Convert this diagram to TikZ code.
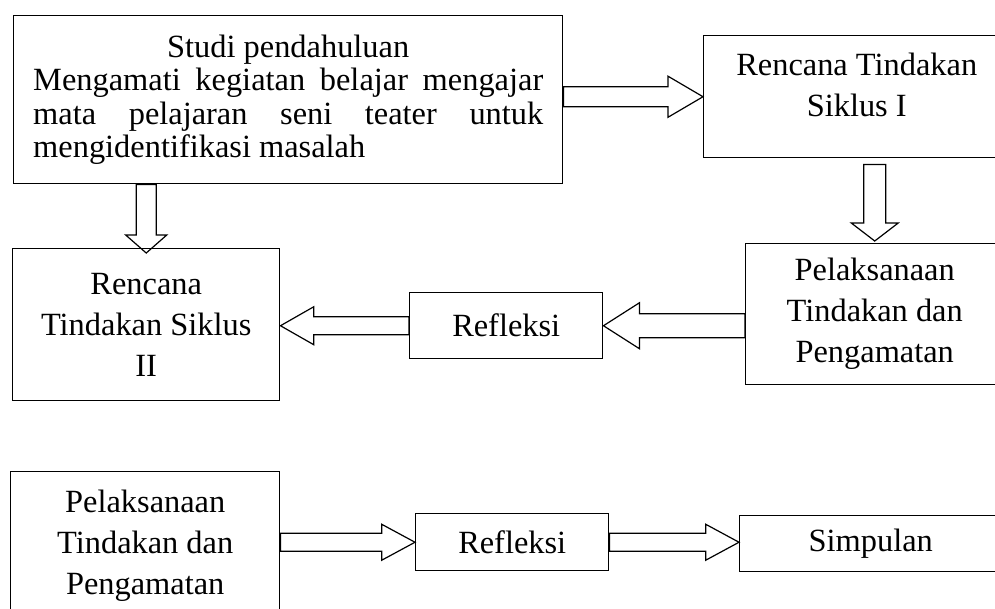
\documentclass[tikz,border=0pt]{standalone}
\usepackage{fontspec}
\setmainfont{Liberation Serif}
\usetikzlibrary{calc}

\tikzset{
  teks/.style={inner sep=0pt, align=center, font=\fontsize{24.3}{30.75}\selectfont},
  kotak/.style={teks, draw, line width=1.1pt, anchor=north west},
  panahblok/.style={draw, line width=0.9pt, line join=miter},
}

% baris rata kiri-kanan di kotak studi
\newcommand{\baris}[2][s]{\makebox[382.5pt][#1]{#2}}

% panah blok: dari, ke, setengah lebar batang, setengah lebar kepala, panjang kepala
\newcommand{\panah}[5]{%
  \coordinate (hb) at ($(#2)!#5!(#1)$);
  \draw[panahblok] ($(#1)!#3!90:(#2)$) -- ($(hb)!#3!90:(#2)$) -- ($(hb)!#4!90:(#2)$) -- (#2)
    -- ($(hb)!#4!-90:(#2)$) -- ($(hb)!#3!-90:(#2)$) -- ($(#1)!#3!-90:(#2)$) -- cycle;
}

\begin{document}
\begin{tikzpicture}[x=0.75pt,y=0.75pt,yscale=-1,xscale=1]
\useasboundingbox (0,0) rectangle (995,608);
\clip (0,0) rectangle (995,608);

%Kotak: Studi pendahuluan
\node[kotak, minimum width=411.75pt, minimum height=126pt, font=\fontsize{24.3}{25}\selectfont] (studi) at (13,15)
  {Studi pendahuluan\\\baris{Mengamati kegiatan belajar mengajar}\\\baris{mata pelajaran seni teater untuk}\\\baris[l]{mengidentifikasi masalah}};
%Kotak: Rencana siklus I
\node[kotak, minimum width=229.5pt, minimum height=91.5pt] (rencanaA) at (703,35) {};
\node[teks] (rencanaAteks) at ($(rencanaA.center)+(0,-12)$) {Rencana Tindakan\\Siklus I};
%Kotak: Pelaksanaan siklus I
\node[kotak, minimum width=193.5pt, minimum height=105.75pt] (pelaksanaanA) at (745,243) {Pelaksanaan\\Tindakan dan\\Pengamatan};
%Kotak: Refleksi siklus I
\node[kotak, minimum width=144.75pt, minimum height=49.5pt] (refleksiA) at (409,292) {Refleksi};
%Kotak: Rencana siklus II
\node[kotak, minimum width=200.25pt, minimum height=114pt] (rencanaB) at (12,248) {Rencana\\Tindakan Siklus\\II};

%Kotak: Pelaksanaan siklus II
\node[kotak, minimum width=201.75pt, minimum height=111pt] (pelaksanaanB) at (10,471) {Pelaksanaan\\Tindakan dan\\Pengamatan};
%Kotak: Refleksi siklus II
\node[kotak, minimum width=144.75pt, minimum height=42.75pt] (refleksiB) at (415,513) {Refleksi};
%Kotak: Simpulan
\node[kotak, minimum width=196.5pt, minimum height=42pt] (simpulan) at (739,515) {Simpulan};

%Panah blok
\coordinate (a1) at (studi.east |- rencanaA.west);
\panah{a1}{rencanaA.west}{7.5pt}{15.4pt}{26.25pt}
\coordinate (a2) at ($(pelaksanaanA.north |- rencanaA.south)+(0,6)$);
\coordinate (b2) at ($(pelaksanaanA.north)+(0,-2)$);
\panah{a2}{b2}{8.25pt}{17.6pt}{13.5pt}
\coordinate (a3) at (pelaksanaanA.west |- refleksiA.east);
\panah{a3}{refleksiA.east}{9pt}{17.25pt}{27pt}
\coordinate (b4) at (rencanaB.east |- refleksiA.west);
\panah{refleksiA.west}{b4}{6.75pt}{14.25pt}{25pt}
\coordinate (a5) at (rencanaB.north |- studi.south);
\coordinate (b5) at ($(rencanaB.north)+(0,5)$);
\panah{a5}{b5}{7.5pt}{15.4pt}{13.5pt}
\coordinate (a6) at (pelaksanaanB.east |- refleksiB.west);
\panah{a6}{refleksiB.west}{6.75pt}{13.5pt}{25pt}
\coordinate (b7) at (simpulan.west |- refleksiB.east);
\panah{refleksiB.east}{b7}{6.75pt}{13.5pt}{25pt}

\end{tikzpicture}
\end{document}
